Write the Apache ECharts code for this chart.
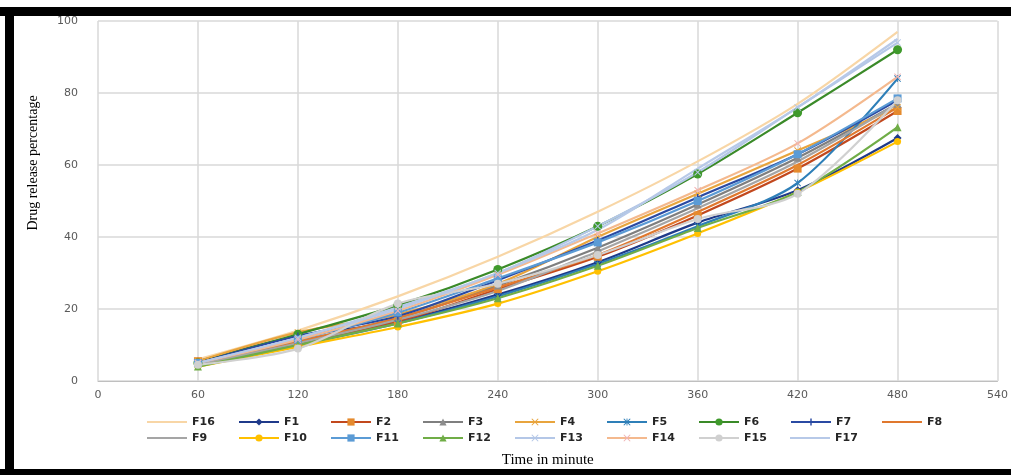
<!DOCTYPE html>
<html><head><meta charset="utf-8">
<script src="https://cdn.jsdelivr.net/npm/echarts@6/dist/echarts.min.js"></script>
<style>html,body{margin:0;padding:0;background:#fff}#c{width:1011px;height:475px}</style>
</head><body><div id="c"></div>
<script>
const times = [60, 120, 180, 240, 300, 360, 420, 480];
const xTicks = [0, 60, 120, 180, 240, 300, 360, 420, 480, 540];
const yTicks = [0, 20, 40, 60, 80, 100];
const F16 = [6, 14, 23.5, 34.5, 47, 61, 77, 97];
const F1  = [5.5, 12.5, 16.5, 24, 33, 44, 53, 67.5];
const F2  = [5.5, 10.5, 16.5, 25.5, 34.5, 46, 59, 75];
const F3  = [5, 11, 17.5, 26.5, 37, 49, 62, 77];
const F4  = [5.5, 13.5, 18.5, 27, 40, 52, 64, 76];
const F5  = [4.5, 10, 16, 23.5, 32.5, 43, 55, 84];
const F6  = [5, 13, 21, 31, 43, 57.5, 74.5, 92];
const F7  = [5, 12.5, 18, 28, 39, 51, 63, 78];
const F8  = [5, 11, 17.5, 26, 35, 47, 60, 76];
const F9  = [4.5, 10.5, 17, 25, 36, 48, 61, 77];
const F10 = [4, 9.5, 15, 21.5, 30.5, 41, 52.5, 66.5];
const F11 = [5, 11.5, 19, 28.5, 38.5, 50, 63, 78.5];
const F12 = [4, 10, 16, 23, 32, 42.5, 52.5, 70.5];
const F13 = [5, 12, 20.5, 30, 43, 58, 76, 94];
const F14 = [5, 11.5, 19.5, 29.5, 41, 53, 66, 84.5];
const F15 = [4.5, 9, 21.5, 27, 35, 45, 52, 78];
const F17 = [5, 12, 20, 30, 42, 59, 76, 95];
const legendOrder = ['F16','F1','F2','F3','F4','F5','F6','F7','F8','F9','F10','F11','F12','F13','F14','F15','F17'];

const X = 'path://M0,1L1,0L5,4L9,0L10,1L6,5L10,9L9,10L5,6L1,10L0,9L4,5Z';
const PLUS = 'path://M4,0H6V4H10V6H6V10H4V6H0V4H4Z';
const STAR = 'path://M0,1L1,0L5,4L9,0L10,1L6,5L10,9L9,10L5,6L1,10L0,9L4,5ZM4.4,0H5.6V10H4.4Z';
const LINEICON = 'path://M0,0H0.01V0.01H0ZM0,3.6H40V5.4H0ZM0,8.99H0.01V9H0Z';
const defs = [
  ['F16', F16, '#F8D6A6', '#F8D6A6', 'none', 0],
  ['F1', F1, '#1F3A8A', '#1F3A8A', 'diamond', 8],
  ['F2', F2, '#C2481D', '#E58A2E', 'rect', 8],
  ['F3', F3, '#7F7F7F', '#8C8C8C', 'triangle', 8],
  ['F4', F4, '#E8A43D', '#E8A43D', X, 7],
  ['F5', F5, '#2E7FB8', '#2E7FB8', STAR, 7],
  ['F6', F6, '#3A8A28', '#3F9A2C', 'circle', 9],
  ['F7', F7, '#2A4AA3', '#2A4AA3', PLUS, 7],
  ['F8', F8, '#E0782E', '#E0782E', 'none', 0],
  ['F9', F9, '#A5A5A5', '#A5A5A5', 'none', 0],
  ['F10', F10, '#FFC000', '#FFC000', 'circle', 7],
  ['F11', F11, '#5B9BD5', '#5B9BD5', 'rect', 8],
  ['F12', F12, '#70AD47', '#70AD47', 'triangle', 8],
  ['F13', F13, '#B4C7E7', '#B4C7E7', X, 7],
  ['F14', F14, '#F4B98E', '#F0B4B4', X, 7],
  ['F15', F15, '#D0D0D0', '#D0D0D0', 'circle', 8],
  ['F17', F17, '#B7C9E8', '#B7C9E8', 'none', 0]
];
const noMarker = {};
defs.forEach(d => { if (d[4] === 'none') noMarker[d[0]] = d[2]; });
const series = defs.map(([name, vals, lc, mc, sym, sz]) => ({
  name, type: 'line', smooth: 0.3,
  data: times.map((t, i) => [t, vals[i]]),
  symbol: sym, symbolSize: sz, showSymbol: sym !== 'none',
  lineStyle: { color: lc, width: 2.2 },
  itemStyle: { color: mc, borderWidth: 0 },
  emphasis: { disabled: true }
}));
const legendData = legendOrder.map(n => noMarker[n]
  ? { name: n, icon: LINEICON, itemStyle: { color: noMarker[n] } }
  : { name: n });

const chart = echarts.init(document.getElementById('c'), null, { renderer: 'canvas' });
chart.setOption({
  animation: false,
  backgroundColor: '#fff',
  grid: { left: 98, right: 5, top: 21, bottom: 94, containLabel: false },
  xAxis: {
    type: 'value', min: xTicks[0], max: xTicks[xTicks.length - 1], interval: 60,
    name: 'Time in minute', nameLocation: 'middle', nameGap: 72,
    nameTextStyle: { fontFamily: 'Liberation Serif', fontSize: 15, color: '#000' },
    axisLine: { show: true, lineStyle: { color: '#BFBFBF' } },
    axisTick: { show: false },
    axisLabel: { fontFamily: 'DejaVu Sans', fontSize: 11, color: '#595959', margin: 9, showMaxLabel: true },
    splitLine: { show: true, lineStyle: { color: '#D9D9D9', width: 1.5 } }
  },
  yAxis: {
    type: 'value', min: yTicks[0], max: yTicks[yTicks.length - 1], interval: 20,
    axisLine: { show: false }, axisTick: { show: false },
    axisLabel: { fontFamily: 'DejaVu Sans', fontSize: 11, color: '#595959', margin: 20 },
    splitLine: { show: true, lineStyle: { color: '#D9D9D9', width: 1.5 } }
  },
  legend: {
    data: legendData, left: 142, top: 410, width: 845,
    itemWidth: 40, itemHeight: 9, itemGap: 2,
    textStyle: { fontFamily: 'DejaVu Sans', fontWeight: 'bold', fontSize: 11, color: '#262626', width: 44, lineHeight: 14 },
    selectedMode: false
  },
  graphic: [
    { type: 'text', x: 33, y: 163, rotation: Math.PI / 2,
      style: { text: 'Drug release percentage', font: '14px "Liberation Serif"', fill: '#000', align: 'center', verticalAlign: 'middle' } },
    { type: 'rect', shape: { x: 0, y: 7, width: 1011, height: 9 }, style: { fill: '#000' } },
    { type: 'rect', shape: { x: 5, y: 7, width: 9, height: 468 }, style: { fill: '#000' } },
    { type: 'rect', shape: { x: 0, y: 469, width: 1011, height: 6 }, style: { fill: '#000' } }
  ],
  series
});
</script></body></html>
